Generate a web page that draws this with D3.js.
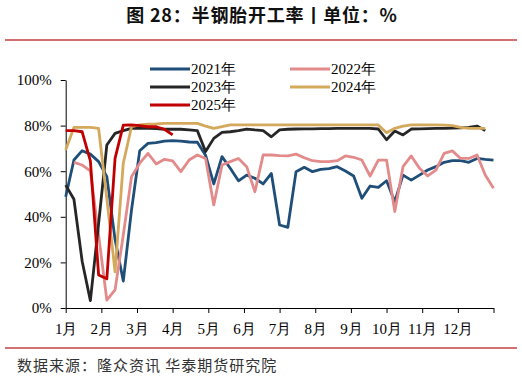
<!DOCTYPE html>
<html lang="zh">
<head>
<meta charset="UTF-8">
<title>半钢胎开工率</title>
<style>
  body { margin: 0; background: #fff; }
  svg { display: block; }
  .axis text { font-family: "Liberation Serif", "Times New Roman", serif; font-size: 15px; fill: #000; }
  .axis path, .axis line { stroke: #000; }
</style>
</head>
<body>
<div id="chart"></div>
<script src="https://cdn.jsdelivr.net/npm/d3@7/dist/d3.min.js"></script>
<script>
// weekly values (%), index = week of year
const months = ["1月", "2月", "3月", "4月", "5月", "6月", "7月", "8月", "9月", "10月", "11月", "12月"];
const yTicks = [0, 20, 40, 60, 80, 100];

const rate2021 = [48.8, 64.9, 69, 67.5, 64.2, 57.6, 30, 11.8, 43, 69, 72.2, 72.5, 73.2, 73.4, 73.2, 72.8, 72.7, 67, 54.4, 66.4,
  61.3, 55.8, 58.3, 56.9, 54.4, 59, 36.4, 35.4, 59.8, 61.7, 59.8, 60.8, 61.1, 62, 60.1, 57.9, 48.1, 53.5, 52.9, 55.8,
  46.6, 58.3, 56.1, 58.3, 60.5, 62, 63.9, 64.6, 64.6, 63.9, 65.6, 65.2, 64.9];
const rate2022 = [null, 63.9, 62.7, 60.1, 32, 3.5, 8, 32, 57.6, 63.5, 67.8, 63.2, 65.2, 64.5, 59.8, 64.9, 67.1, 65.6, 45.2, 62.7,
  64.2, 65.6, 62, 51, 67.1, 67.1, 66.8, 66.7, 67.5, 65.9, 64.6, 64.2, 64.2, 64.6, 66.7, 66.1, 64.9, 57.9, 64.9, 64.9,
  42.3, 62, 66.7, 61.3, 57.9, 60.5, 67.8, 68.9, 65.6, 65.6, 67.1, 58.3, 52.5];
const rate2023 = [53.9, 47.7, 20.5, 3.2, 37, 71.5, 76.6, 77.8, 78.8, 78.8, 78.8, 78.7, 78.4, 78.4, 78.4, 78.1, 77.8, 68.6, 74.4, 77,
  77.3, 77.8, 78.5, 78.1, 77.8, 75.1, 78.1, 78.4, 78.5, 78.6, 78.6, 78.7, 78.7, 78.8, 78.8, 78.8, 78.8, 78.8, 78.5, 73.8,
  77.6, 75.9, 78.5, 78.6, 78.7, 78.8, 78.8, 78.9, 79, 79.2, 79.8, 77.8];
const rate2024 = [69.3, 79.2, 79.2, 79.2, 78.8, 48, 15.9, 63.5, 79.5, 80.3, 80.6, 80.7, 81, 81, 81, 81, 81, 79.8, 78.8, 79.5,
  80.3, 80.3, 80.3, 80.3, 80.3, 80.3, 80.3, 80.3, 80.3, 80.3, 80.3, 80.3, 80.3, 80.3, 80.3, 80.3, 80.3, 80.3, 80.3, 76.9,
  78.8, 79.8, 80.3, 80.3, 80.3, 80.3, 80.2, 80, 79.2, 78.8, 78.8, 78.8];
const rate2025 = [77.8, 77.8, 77.3, 64.5, 14.5, 12.8, 65.6, 80.2, 80.3, 80, 79.5, 79.5, 78.4, 75.9];

const series = [
  { name: "2021年", values: rate2021, color: "#1f4e79" },
  { name: "2022年", values: rate2022, color: "#e38b8b" },
  { name: "2023年", values: rate2023, color: "#262626" },
  { name: "2024年", values: rate2024, color: "#d4a95c" },
  { name: "2025年", values: rate2025, color: "#c00000" }
];

const width = 522, height = 378;
const svg = d3.select("#chart").append("svg")
  .attr("width", width)
  .attr("height", height);

// title
svg.append("text")
  .attr("x", 262)
  .attr("y", 22)
  .attr("text-anchor", "middle")
  .style("font-family", "'Noto Sans CJK SC', sans-serif")
  .style("font-weight", "bold")
  .style("font-size", "18px")
  .style("letter-spacing", "0.8px")
  .style("fill", "#111")
  .text("图 28：半钢胎开工率丨单位：%");

svg.append("line")
  .attr("x1", 5).attr("x2", 517)
  .attr("y1", 40).attr("y2", 40)
  .attr("stroke", "#d07070")
  .attr("stroke-width", 2);

svg.append("line")
  .attr("x1", 5).attr("x2", 517)
  .attr("y1", 348).attr("y2", 348)
  .attr("stroke", "#d07070")
  .attr("stroke-width", 2);

svg.append("text")
  .attr("x", 17)
  .attr("y", 371)
  .style("font-family", "'Noto Sans CJK SC', sans-serif")
  .style("font-size", "15px")
  .style("letter-spacing", "1px")
  .style("fill", "#333")
  .text("数据来源：隆众资讯 华泰期货研究院");

// scales
const x = d3.scaleLinear().domain([0, 52]).range([65.7, 493.5]);
const y = d3.scaleLinear().domain([0, 100]).range([308, 80]);

// axes
const yAxis = svg.append("g")
  .attr("class", "axis")
  .attr("transform", `translate(${x(0)},0)`)
  .call(d3.axisLeft(y).tickValues(yTicks).tickFormat(d => d + "%").tickSize(5).tickSizeOuter(0));
yAxis.selectAll("text").attr("x", -14);

const monthTicks = d3.range(13).map(m => m * 52 / 12);
const xAxis = svg.append("g")
  .attr("class", "axis")
  .attr("transform", `translate(0,${y(0)})`)
  .call(d3.axisBottom(x).tickValues(monthTicks).tickFormat((d, i) => months[i] || "").tickSize(5).tickSizeOuter(0));
xAxis.selectAll("text").attr("y", 15);

// lines
const line = d3.line()
  .defined(d => d != null)
  .x((d, i) => x(i))
  .y(d => y(d));

svg.append("g")
  .selectAll("path")
  .data(series)
  .enter()
  .append("path")
  .attr("d", d => line(d.values))
  .attr("fill", "none")
  .attr("stroke", d => d.color)
  .attr("stroke-width", 2.8)
  .attr("stroke-linejoin", "round");

// legend
const legendPos = [[150, 69], [290, 69], [150, 87], [290, 87], [150, 105]];
const legend = svg.append("g")
  .selectAll("g")
  .data(series)
  .enter()
  .append("g")
  .attr("transform", (d, i) => `translate(${legendPos[i][0]},${legendPos[i][1]})`);

legend.append("line")
  .attr("x1", 0).attr("x2", 40)
  .attr("stroke", d => d.color)
  .attr("stroke-width", 2.8);

legend.append("text")
  .attr("x", 41)
  .attr("dy", "0.35em")
  .style("font-family", "'Liberation Serif', 'Times New Roman', serif")
  .style("font-size", "15px")
  .style("fill", "#000")
  .text(d => d.name);
</script>
</body>
</html>
